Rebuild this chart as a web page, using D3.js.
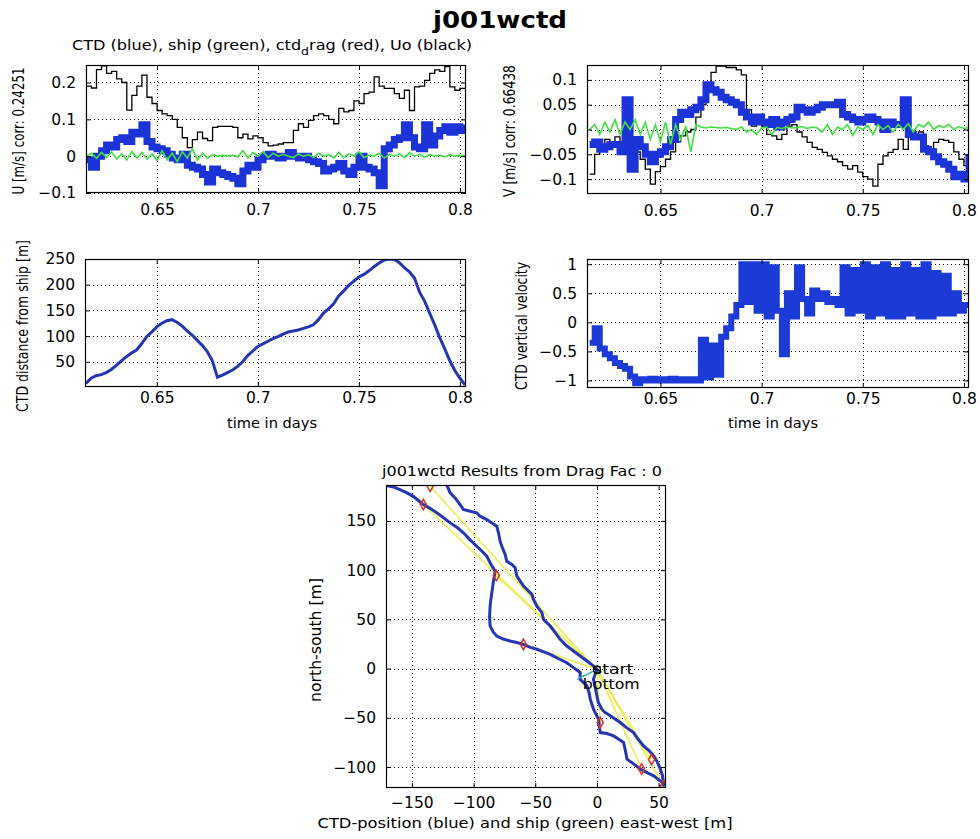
<!DOCTYPE html>
<html><head><meta charset="utf-8">
<script src="https://cdn.jsdelivr.net/npm/d3@7"></script>
<style>
body{margin:0;background:#fff}
svg text{font-family:"DejaVu Sans",sans-serif;fill:#000}
</style></head>
<body><svg id="c" width="980" height="839"></svg>
<script>
// ---------------- data ----------------
const time = [0.615,0.6175,0.62,0.6225,0.625,0.6275,0.63,0.6325,0.635,0.6375,0.64,0.6425,0.645,0.6475,0.65,0.6525,0.655,0.6575,0.66,0.6625,0.665,0.6675,0.67,0.6725,0.675,0.6775,0.68,0.6825,0.685,0.6875,0.69,0.6925,0.695,0.6975,0.7,0.7025,0.705,0.7075,0.71,0.7125,0.715,0.7175,0.72,0.7225,0.725,0.7275,0.73,0.7325,0.735,0.7375,0.74,0.7425,0.745,0.7475,0.75,0.7525,0.755,0.7575,0.76,0.7625,0.765,0.7675,0.77,0.7725,0.775,0.7775,0.78,0.7825,0.785,0.7875,0.79,0.7925,0.795,0.7975,0.8,0.8025];

// U component
const uoU = [0.19,0.185,0.235,0.245,0.225,0.23,0.21,0.2,0.125,0.165,0.19,0.22,0.16,0.143,0.124,0.115,0.11,0.1,0.078,0.05,0.023,0.045,0.065,0.048,0.042,0.078,0.081,0.081,0.081,0.078,0.05,0.06,0.047,0.055,0.05,0.037,0.028,0.03,0.033,0.037,0.037,0.07,0.088,0.078,0.097,0.11,0.115,0.11,0.1,0.088,0.13,0.12,0.124,0.15,0.143,0.17,0.174,0.215,0.19,0.184,0.184,0.17,0.157,0.179,0.124,0.188,0.19,0.206,0.225,0.234,0.23,0.243,0.188,0.179,0.184,0.184];
const ctdU = [-0.01,-0.03,0.0,0.015,0.03,0.025,0.045,0.05,0.04,0.065,0.06,0.085,0.04,0.025,0.02,0.015,0.005,-0.005,-0.01,0.005,-0.025,-0.03,-0.035,-0.05,-0.07,-0.035,-0.045,-0.05,-0.055,-0.06,-0.075,-0.04,-0.025,-0.03,-0.01,0.0,0.005,0.0,-0.005,0.0,0.01,0.0,-0.005,0.0,-0.01,-0.015,-0.02,-0.04,-0.035,-0.03,-0.02,-0.04,-0.05,-0.03,0.0,-0.03,-0.035,-0.045,-0.08,0.02,0.03,0.045,0.05,0.085,0.05,0.025,0.02,0.085,0.03,0.055,0.07,0.08,0.065,0.08,0.07,0.085];
const shipU = [0.0,0.008,-0.006,0.01,-0.004,0.012,-0.008,0.006,-0.01,0.012,-0.005,0.01,-0.008,0.006,-0.012,0.015,-0.01,0.008,-0.015,0.012,-0.005,0.02,-0.01,0.008,-0.006,0.004,0.0,0.002,0.0,0.003,-0.002,0.015,-0.005,0.01,0.0,0.012,-0.004,0.008,0.0,0.005,0.0,-0.004,0.006,0.0,0.004,-0.003,0.008,0.0,0.004,-0.005,0.01,-0.004,0.006,0.0,0.012,-0.004,0.003,0.0,0.008,-0.005,0.004,0.0,0.006,-0.004,0.01,0.0,0.005,-0.003,0.004,0.0,0.003,-0.002,0.004,0.0,0.002,0.0];

// V component
const uoV = [-0.09,-0.05,-0.03,-0.02,-0.03,-0.015,-0.03,-0.04,-0.025,-0.045,-0.06,-0.08,-0.11,-0.085,-0.075,-0.06,-0.045,-0.025,-0.013,-0.005,0.0,0.025,0.05,0.09,0.115,0.128,0.128,0.125,0.125,0.12,0.11,0.04,0.007,0.015,0.007,-0.01,-0.013,-0.02,-0.01,0.007,0.01,-0.005,-0.015,-0.026,-0.036,-0.04,-0.046,-0.053,-0.06,-0.065,-0.073,-0.08,-0.073,-0.086,-0.095,-0.1,-0.114,-0.07,-0.053,-0.046,-0.04,-0.02,-0.04,-0.013,-0.01,-0.005,-0.033,-0.04,-0.026,-0.02,-0.022,-0.026,-0.045,-0.06,-0.073,-0.06];
const ctdV = [-0.03,-0.025,-0.04,-0.035,-0.03,-0.03,-0.045,0.06,-0.08,-0.02,-0.035,-0.05,-0.065,-0.05,-0.045,-0.035,-0.02,0.02,0.035,0.03,0.04,0.045,0.06,0.09,0.08,0.075,0.065,0.06,0.055,0.05,0.035,0.025,0.015,0.025,0.015,0.01,0.02,0.005,0.015,0.02,0.025,0.045,0.04,0.035,0.04,0.045,0.05,0.05,0.05,0.055,0.03,0.025,0.02,0.015,0.02,0.025,0.02,0.015,0.0,0.015,0.01,0.01,0.06,-0.01,-0.015,-0.015,-0.04,-0.045,-0.055,-0.065,-0.07,-0.08,-0.095,-0.09,-0.1,-0.05];
const shipV = [0.0,0.01,-0.01,0.015,-0.005,0.02,-0.01,0.015,0.0,0.02,-0.01,0.015,-0.02,0.01,-0.025,0.015,-0.03,0.01,-0.02,0.005,-0.045,0.01,0.005,0.003,0.005,0.004,0.003,0.004,0.002,0.0,0.005,-0.005,0.0,-0.01,0.003,0.005,-0.01,0.004,0.002,0.005,0.003,0.004,0.006,0.002,0.005,0.003,-0.005,0.01,-0.01,0.005,0.0,0.01,-0.012,0.005,0.0,0.008,-0.01,0.01,0.0,0.008,-0.005,0.01,0.0,0.012,-0.005,0.01,0.005,0.015,0.0,0.008,0.004,0.01,0.0,0.006,0.002,0.004];

// CTD distance from ship [m]
const distance = [8,18,23,25,29,35,43,52,60,67,73,85,99,108,118,125,130,132,127,120,110,102,92,82,70,52,20,24,29,34,41,50,62,71,80,85,90,95,99,104,108,110,112,115,118,122,132,145,153,163,178,188,199,207,215,220,227,235,242,248,250,249,243,233,225,213,186,168,145,122,97,75,52,33,18,5];

// CTD vertical velocity
const vertVel = [-0.35,-0.1,-0.45,-0.55,-0.62,-0.7,-0.75,-0.8,-0.93,-1.05,-0.98,-1.0,-0.97,-1.0,-0.98,-1.0,-0.97,-1.0,-0.98,-1.0,-0.98,-1.0,-0.3,-0.95,-0.4,-0.9,-0.25,-0.1,0.1,0.3,1.0,0.35,1.0,0.2,1.0,0.1,0.95,0.2,-0.55,0.5,0.1,0.95,0.4,0.15,0.55,0.4,0.5,0.35,0.4,0.3,0.95,0.15,0.9,0.2,1.0,0.1,0.95,0.15,1.0,0.1,0.9,0.1,1.0,0.15,0.9,0.1,1.0,0.1,0.85,0.15,0.8,0.15,0.5,0.2,0.3,0.35];

// CTD position track (east-west, north-south) [m]
const ctdX = [0,0,-2.7,-8.1,-13.6,-19,-24.4,-29.8,-33.8,-37.9,-43.3,-44.6,-48.7,-51.4,-52.7,-55.4,-59.5,-62.2,-64.9,-66.3,-69,-73.1,-74.4,-77.1,-78.5,-79.8,-81.2,-85.2,-89.3,-94.7,-97.4,-102.8,-108.2,-110.9,-115,-119,-121.8,-135,-150,-165,-171,-165,-159.7,-154,-148.9,-145,-140.7,-135,-129.9,-124,-119,-113,-108.3,-103,-97.4,-93,-89.3,-86,-82.5,-83.9,-85.2,-86,-86.6,-87,-86.6,-84,-81.2,-76,-70.4,-65,-59.6,-54,-48.7,-43,-37.9,-31,-24.4,-19,-13.6,-13.6,-8.1,-6.5,-5.4,-2.8,1.3,2.7,8,13.5,18,21.6,23,24.4,30,35.1,41,46,52.8,54.6,54,53,51.4,49,46,42,37.8,33,29.7,24,18.9,10.8,6,4,1,0,-1.5,-2.8,-1,0];
const ctdY = [0,-0.7,2.6,7.7,12.8,17.9,22.9,29.7,36.5,43.2,50,56.8,63.5,70.3,75.4,78.7,83.8,88.8,93.9,102.4,105.8,109.1,115.9,124.3,129.4,137.9,144.6,148,151.4,154.8,158.2,159.9,161.6,166.6,173.4,178.5,186.9,188,189,188,186,184.5,181.8,178.5,175,171,166.6,162.5,158.2,153,148,143,138,131,124.3,119,114.2,106,99,88.8,77,70,63.5,53,43.2,37,33,30,28,26.5,24.6,21.5,19.6,17,14.5,10,6,1,-4,-10.9,-17.6,-24,-31,-41.3,-51.4,-65,-66,-68.4,-72,-75,-83,-92,-97,-102,-106,-109,-115.6,-119.4,-115.6,-108,-102,-95,-88.6,-83,-78.5,-71,-65,-60,-54.8,-48,-44,-41.3,-34,-27.8,-18,-10.9,-4,0];
// ship track (near the start position)
const shipX = [-16,-12,-8,-5,-2.7];
const shipY = [-11,-8,-6,-4,-2.8];
// CTD drag marks and the ship position at those times
const dragX = [-135.2,-140.7,-81.5,-59.6,2.7,36.2,44.3,54];
const dragY = [185.2,166.6,94.5,24.6,-54.8,-102,-92.4,-119];
const shipAtDragX = [-1,-1,-1,-2,0,0,0,0];
const shipAtDragY = [0,0,0,0,-1,-1,-1,-1];

// ticks
const tTicks = [0.65,0.7,0.75,0.8];
const uTicks = [-0.1,0,0.1,0.2];
const vTicks = [-0.1,-0.05,0,0.05,0.1];
const dTicks = [50,100,150,200,250];
const wTicks = [-1,-0.5,0,0.5,1];
const ewTicks = [-150,-100,-50,0,50];
const nsTicks = [-100,-50,0,50,100,150];

// ---------------- drawing ----------------
const svg = d3.select("#c");
const fmt = d3.format("~g");
let clipN = 0;

function panel(c){
  const x = d3.scaleLinear().domain(c.xd).range([c.x0,c.x1]);
  const y = d3.scaleLinear().domain(c.yd).range([c.y1,c.y0]);
  const id = "clip"+(clipN++);
  svg.append("clipPath").attr("id",id).append("rect")
    .attr("x",c.x0).attr("y",c.y0).attr("width",c.x1-c.x0).attr("height",c.y1-c.y0);
  const g = svg.append("g");
  const grid = g.append("g").attr("stroke","#000").attr("stroke-width",1).attr("stroke-dasharray","1,3");
  grid.selectAll("line.gx").data(c.xt).join("line").attr("class","gx")
    .attr("x1",d=>Math.round(x(d))+0.5).attr("x2",d=>Math.round(x(d))+0.5)
    .attr("y1",c.y0).attr("y2",c.y1);
  grid.selectAll("line.gy").data(c.yt).join("line").attr("class","gy")
    .attr("y1",d=>Math.round(y(d))+0.5).attr("y2",d=>Math.round(y(d))+0.5)
    .attr("x1",c.x0).attr("x2",c.x1);
  const layer = g.append("g").attr("clip-path",`url(#${id})`);
  const styleAxis = sel => { sel.select(".domain").remove(); sel.selectAll("text").attr("font-size",15.5).attr("font-family","DejaVu Sans").attr("fill","#000"); sel.selectAll("line").attr("stroke","#000"); };
  g.append("g").attr("transform",`translate(0,${c.y1})`)
    .call(d3.axisBottom(x).tickValues(c.xt).tickSizeInner(-5).tickSizeOuter(0).tickPadding(c.xpad).tickFormat(fmt)).call(styleAxis);
  g.append("g").attr("transform",`translate(0,${c.y0})`)
    .call(d3.axisTop(x).tickValues(c.xt).tickSizeInner(-5).tickSizeOuter(0).tickFormat("")).call(styleAxis);
  g.append("g").attr("transform",`translate(${c.x0},0)`)
    .call(d3.axisLeft(y).tickValues(c.yt).tickSizeInner(-5).tickSizeOuter(0).tickPadding(10).tickFormat(fmt)).call(styleAxis);
  g.append("g").attr("transform",`translate(${c.x1},0)`)
    .call(d3.axisRight(y).tickValues(c.yt).tickSizeInner(-5).tickSizeOuter(0).tickFormat("")).call(styleAxis);
  g.append("rect").attr("x",c.x0+0.5).attr("y",c.y0+0.5).attr("width",c.x1-c.x0-1).attr("height",c.y1-c.y0-1)
    .attr("fill","none").attr("stroke","#000").attr("stroke-width",1.2);
  return {x,y,layer};
}

function series(p, xs, ys, color, width, curve){
  const pts = xs.map((v,i)=>[v,ys[i]]);
  p.layer.append("path").datum(pts)
    .attr("d", d3.line().x(d=>p.x(d[0])).y(d=>p.y(d[1])).curve(curve||d3.curveLinear))
    .attr("fill","none").attr("stroke",color).attr("stroke-width",width)
    .attr("stroke-linejoin","miter").attr("stroke-linecap","butt");
}

function label(txt, x, y, opts){
  const t = svg.append("text").attr("x",x).attr("y",y).attr("text-anchor",opts.anchor||"middle")
    .attr("font-size",opts.fs||13).text(txt);
  if(opts.len) t.attr("textLength",opts.len).attr("lengthAdjust","spacingAndGlyphs");
  if(opts.bold) t.attr("font-weight","bold");
  return t;
}
function vlabel(txt, x, y, len, fs){
  svg.append("text").attr("transform",`translate(${x},${y}) rotate(-90) scale(1,1.25)`).attr("text-anchor","middle")
    .attr("font-size",fs||12).attr("textLength",len).attr("lengthAdjust","spacingAndGlyphs").text(txt);
}

const BLUE = "#1c33d8", NAVY = "#2536b2", GREEN = "#3fe03f";

// title
label("j001wctd", 500, 28, {fs:23, bold:true, len:134});
const st = svg.append("text").attr("x",272).attr("y",50).attr("text-anchor","middle").attr("font-size",13.5)
  .attr("textLength",400).attr("lengthAdjust","spacingAndGlyphs");
st.append("tspan").text("CTD (blue), ship (green), ctd");
st.append("tspan").attr("dy",5).attr("font-size",10.5).text("d");
st.append("tspan").attr("dy",-5).text("rag (red), Uo (black)");

// U panel
const pU = panel({x0:86,x1:466,y0:65,y1:193,xd:[0.6148,0.803],yd:[-0.1,0.2475],xt:tTicks,yt:uTicks,xpad:11});
series(pU, time, uoU, "#000", 1.3, d3.curveStepAfter);
series(pU, time, ctdU, BLUE, 7, d3.curveStepAfter);
series(pU, time, shipU, GREEN, 1.6);
vlabel("U [m/s] corr: 0.24251", 24, 131, 127);

// V panel
const pV = panel({x0:587,x1:969,y0:65,y1:194,xd:[0.6137,0.8025],yd:[-0.13,0.13],xt:tTicks,yt:vTicks,xpad:11});
series(pV, time, uoV, "#000", 1.3, d3.curveStepAfter);
series(pV, time, ctdV, BLUE, 7, d3.curveStepAfter);
series(pV, time, shipV, GREEN, 1.6);
vlabel("V [m/s] corr: 0.66438", 515, 131, 132);

// distance panel
const pD = panel({x0:85,x1:466,y0:259,y1:387,xd:[0.6145,0.803],yd:[1,250],xt:tTicks,yt:dTicks,xpad:5});
series(pD, time, distance, NAVY, 3);
vlabel("CTD distance from ship [m]", 28, 326, 172);
label("time in days", 272, 428, {fs:14, len:90});

// vertical velocity panel
const pW = panel({x0:587,x1:969,y0:259,y1:388,xd:[0.6137,0.8025],yd:[-1.13,1.09],xt:tTicks,yt:wTicks,xpad:5});
series(pW, time, vertVel, "#1c3ad6", 6, d3.curveStepAfter);
vlabel("CTD vertical velocity", 527, 326, 128);
label("time in days", 773, 428, {fs:14, len:90});

// position panel
const pP = panel({x0:386,x1:666,y0:485,y1:788,xd:[-171,56],yd:[-121.3,186.5],xt:ewTicks,yt:nsTicks,xpad:9});
dragX.forEach((v,i)=>{
  pP.layer.append("line").attr("x1",pP.x(shipAtDragX[i])).attr("y1",pP.y(shipAtDragY[i]))
    .attr("x2",pP.x(v)).attr("y2",pP.y(dragY[i])).attr("stroke","#eeee55").attr("stroke-width",1.6);
});
series(pP, ctdX, ctdY, NAVY, 3);
series(pP, shipX, shipY, "#2fb8a8", 1.5);
pP.layer.selectAll("path.dm").data(dragX).join("path").attr("class","dm")
  .attr("transform",(d,i)=>`translate(${pP.x(d)},${pP.y(dragY[i])})`)
  .attr("d", d3.symbol().type(d3.symbolDiamond).size(32))
  .attr("fill","none").attr("stroke","#e0301e").attr("stroke-width",1.5);
pP.layer.append("circle").attr("cx",pP.x(0)).attr("cy",pP.y(-1)).attr("r",3.5)
  .attr("fill","none").attr("stroke","#000").attr("stroke-width",1.2);
svg.append("text").attr("x",pP.x(-3)).attr("y",pP.y(0)).attr("dy","0.35em").attr("font-size",14.5)
  .attr("textLength",40).attr("lengthAdjust","spacingAndGlyphs").text("start");
svg.append("text").attr("x",pP.x(-11.5)).attr("y",pP.y(-16)).attr("dy","0.35em").attr("font-size",14.5)
  .attr("textLength",57).attr("lengthAdjust","spacingAndGlyphs").text("bottom");
label("j001wctd Results from Drag Fac : 0", 522, 476, {fs:13.5, len:280});
label("CTD-position (blue) and ship (green) east-west [m]", 525, 828, {fs:14, len:415});
vlabel("north-south [m]", 321, 640, 124, 13);
</script>
</body></html>
